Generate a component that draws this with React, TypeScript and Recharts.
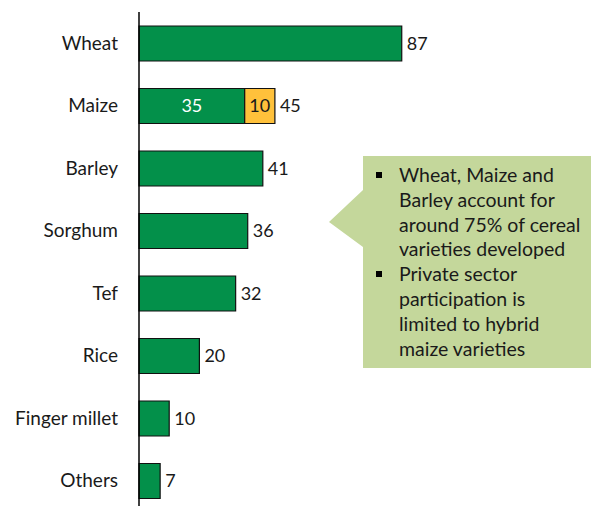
import { BarChart, Bar, XAxis, YAxis, LabelList } from "recharts";

const categories = ["Wheat", "Maize", "Barley", "Sorghum", "Tef", "Rice", "Finger millet", "Others"];
const publicVarieties = [87, 35, 41, 36, 32, 20, 10, 7];
const privateVarieties = [0, 10, 0, 0, 0, 0, 0, 0];

const calloutLines = [
  ["Wheat, Maize and", "Barley account for", "around 75% of cereal", "varieties developed"],
  ["Private sector", "participation is", "limited to hybrid", "maize varieties"],
];

const data = categories.map((name, i) => ({
  name,
  pub: publicVarieties[i],
  priv: privateVarieties[i],
  total: publicVarieties[i] + privateVarieties[i],
}));

const FONT = "Lato, 'Open Sans', sans-serif";

const rowOf = (name: string) => data.find((d) => d.name === name)!;

function PubLabel(props: any) {
  const { x, y, width, height, value } = props;
  const row = rowOf(value);
  if (row.priv > 0) {
    return (
      <text x={x + width / 2} y={y + height / 2} dy={6} textAnchor="middle" fill="#fff" fontSize={18} fontFamily={FONT}>
        {row.pub}
      </text>
    );
  }
  return (
    <text x={x + width + 5} y={y + height / 2} dy={6} fill="#1a1a1a" fontSize={18} fontFamily={FONT}>
      {row.total}
    </text>
  );
}

function PrivLabel(props: any) {
  const { x, y, width, height, value } = props;
  const row = rowOf(value);
  if (!row || !row.priv) return null;
  return (
    <g>
      <text x={x + width / 2} y={y + height / 2} dy={6} textAnchor="middle" fill="#1a1a1a" fontSize={18} fontFamily={FONT}>
        {row.priv}
      </text>
      <text x={x + width + 5} y={y + height / 2} dy={6} fill="#1a1a1a" fontSize={18} fontFamily={FONT}>
        {row.total}
      </text>
    </g>
  );
}

export default function App() {
  return (
    <div style={{ position: "absolute", left: 0, top: 0, width: 594, height: 506, overflow: "hidden", background: "#fff" }}>
      <BarChart
        width={594}
        height={512}
        layout="vertical"
        data={data}
        margin={{ top: 12, right: 153, bottom: 0, left: 0 }}
      >
        <XAxis type="number" domain={[0, 100]} hide />
        <YAxis
          type="category"
          dataKey="name"
          width={139}
          axisLine={{ stroke: "#000", strokeWidth: 1.5 }}
          tickLine={false}
          tickMargin={15}
          tick={{ fill: "#1a1a1a", fontSize: 19, fontFamily: FONT }}
          interval={0}
        />
        <Bar dataKey="pub" stackId="a" barSize={35} fill="#03904a" stroke="#111" strokeWidth={1.2} isAnimationActive={false}>
          <LabelList dataKey="name" content={PubLabel} />
        </Bar>
        <Bar dataKey="priv" stackId="a" barSize={35} fill="#ffc13b" stroke="#111" strokeWidth={1.2} isAnimationActive={false}>
          <LabelList dataKey="name" content={PrivLabel} />
        </Bar>
      </BarChart>
      <svg style={{ position: "absolute", left: 0, top: 0 }} width={594} height={506}>
        <polygon points="363,156 591,156 591,368 363,368 363,247 329,222 363,190" fill="#c4d79b" />
      </svg>
      <div
        style={{
          position: "absolute",
          left: 376,
          top: 163,
          fontFamily: FONT,
          fontSize: 19.5,
          lineHeight: "24.8px",
          color: "#1a1a1a",
        }}
      >
        {calloutLines.map((lines, i) => (
          <div key={i} style={{ position: "relative", paddingLeft: 23 }}>
            <span style={{ position: "absolute", left: 0, top: 9, width: 6, height: 6, background: "#000" }} />
            {lines.map((l) => (
              <div key={l} style={{ whiteSpace: "nowrap" }}>{l}</div>
            ))}
          </div>
        ))}
      </div>
    </div>
  );
}
